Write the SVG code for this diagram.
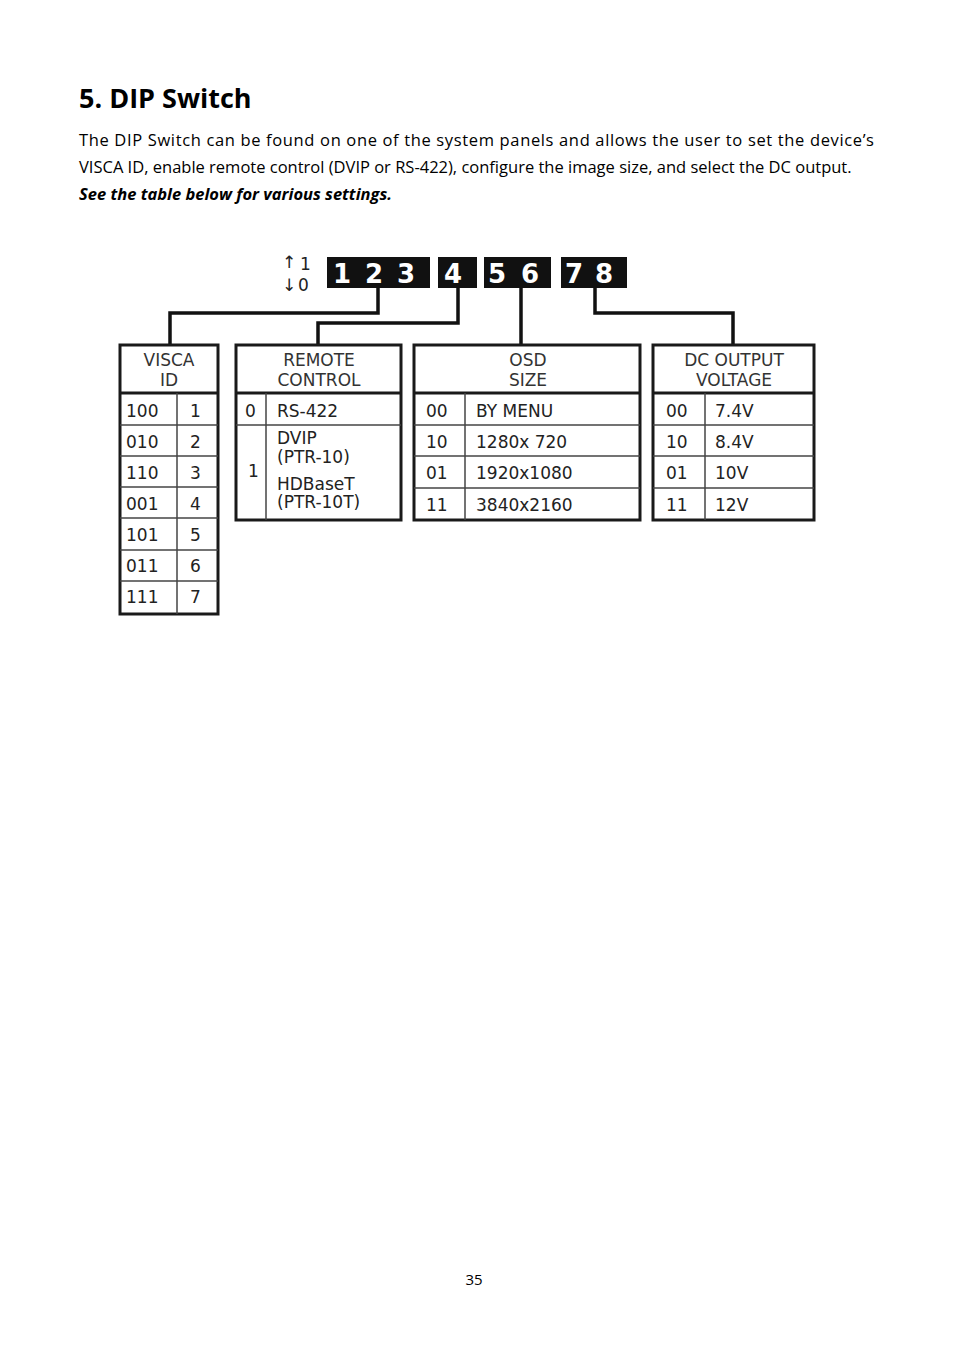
<svg xmlns="http://www.w3.org/2000/svg" width="954" height="1350" viewBox="0 0 954 1350">
<style>
.b{fill:none;stroke:#1a1a1a;stroke-width:3}
.g{stroke:#444;stroke-width:1.5}
.c{fill:none;stroke:#111;stroke-width:3.5}
.t{font-family:"DejaVu Sans",sans-serif;font-size:17px;fill:#222}
.h{font-family:"DejaVu Sans",sans-serif;font-size:17px;fill:#333;text-anchor:middle}
.k{font-family:"DejaVu Sans",sans-serif;font-size:26px;font-weight:bold;fill:#fff}
.p{font-family:"Open Sans","Liberation Sans",sans-serif;font-size:16.5px;fill:#000}
</style>
<rect width="954" height="1350" fill="#fff"/>
<text x="79" y="108" style="font-family:'Open Sans','Liberation Sans',sans-serif;font-size:27px;font-weight:bold">5.   DIP Switch</text>
<text class="p" x="79" y="146" textLength="795" lengthAdjust="spacing">The DIP Switch can be found on one of the system panels and allows the user to set the device’s</text>
<text class="p" x="79" y="173">VISCA ID, enable remote control (DVIP or RS-422), configure the image size, and select the DC output.</text>
<text class="p" x="79" y="200" style="font-weight:bold;font-style:italic">See the table below for various settings.</text>

<g id="switch">
<text class="t" x="282" y="268" font-size="16">↑</text><text class="t" x="300" y="270" font-size="19">1</text>
<text class="t" x="282" y="291" font-size="16">↓</text><text class="t" x="298" y="291" font-size="19">0</text>
<rect x="327" y="257" width="103" height="31" fill="#111"/>
<rect x="438" y="257" width="39" height="31" fill="#111"/>
<rect x="484" y="257" width="67" height="31" fill="#111"/>
<rect x="561" y="257" width="66" height="31" fill="#111"/>
<text class="k" x="333" y="283">1</text><text class="k" x="365" y="283">2</text><text class="k" x="397" y="283">3</text>
<text class="k" x="444" y="283">4</text>
<text class="k" x="488" y="283">5</text><text class="k" x="521" y="283">6</text>
<text class="k" x="565" y="283">7</text><text class="k" x="595" y="283">8</text>
</g>

<g id="connectors">
<polyline class="c" points="378,288 378,313 170,313 170,345"/>
<polyline class="c" points="458,288 458,323 318,323 318,345"/>
<polyline class="c" points="521,288 521,345"/>
<polyline class="c" points="595,288 595,313 733,313 733,345"/>
</g>

<g id="visca">
<rect class="b" x="120" y="345" width="98" height="269"/>
<line class="b" x1="120" y1="393" x2="218" y2="393"/>
<line class="g" x1="177" y1="393" x2="177" y2="614"/>
<g class="g"><line x1="120" y1="425" x2="218" y2="425"/><line x1="120" y1="456" x2="218" y2="456"/><line x1="120" y1="487" x2="218" y2="487"/><line x1="120" y1="518" x2="218" y2="518"/><line x1="120" y1="550" x2="218" y2="550"/><line x1="120" y1="581" x2="218" y2="581"/></g>
<text class="h" x="169" y="366">VISCA</text><text class="h" x="169" y="386">ID</text>
<text class="t" x="126" y="417">100</text><text class="t" x="190" y="417">1</text>
<text class="t" x="126" y="448">010</text><text class="t" x="190" y="448">2</text>
<text class="t" x="126" y="479">110</text><text class="t" x="190" y="479">3</text>
<text class="t" x="126" y="510">001</text><text class="t" x="190" y="510">4</text>
<text class="t" x="126" y="541">101</text><text class="t" x="190" y="541">5</text>
<text class="t" x="126" y="572">011</text><text class="t" x="190" y="572">6</text>
<text class="t" x="126" y="603">111</text><text class="t" x="190" y="603">7</text>
</g>

<g id="remote">
<rect class="b" x="236" y="345" width="165" height="175"/>
<line class="b" x1="236" y1="393" x2="401" y2="393"/>
<line class="g" x1="266" y1="393" x2="266" y2="520"/>
<line class="g" x1="236" y1="425" x2="401" y2="425"/>
<text class="h" x="319" y="366">REMOTE</text><text class="h" x="319" y="386">CONTROL</text>
<text class="t" x="245" y="417">0</text><text class="t" x="277" y="417">RS-422</text>
<text class="t" x="248" y="477">1</text>
<text class="t" x="277" y="444">DVIP</text><text class="t" x="277" y="463">(PTR-10)</text>
<text class="t" x="277" y="490">HDBaseT</text><text class="t" x="277" y="508">(PTR-10T)</text>
</g>

<g id="osd">
<rect class="b" x="414" y="345" width="226" height="175"/>
<line class="b" x1="414" y1="393" x2="640" y2="393"/>
<line class="g" x1="465" y1="393" x2="465" y2="520"/>
<g class="g"><line x1="414" y1="425" x2="640" y2="425"/><line x1="414" y1="456" x2="640" y2="456"/><line x1="414" y1="488" x2="640" y2="488"/></g>
<text class="h" x="528" y="366">OSD</text><text class="h" x="528" y="386">SIZE</text>
<text class="t" x="426" y="417">00</text><text class="t" x="476" y="417">BY MENU</text>
<text class="t" x="426" y="448">10</text><text class="t" x="476" y="448">1280x  720</text>
<text class="t" x="426" y="479">01</text><text class="t" x="476" y="479">1920x1080</text>
<text class="t" x="426" y="511">11</text><text class="t" x="476" y="511">3840x2160</text>
</g>

<g id="dc">
<rect class="b" x="653" y="345" width="161" height="175"/>
<line class="b" x1="653" y1="393" x2="814" y2="393"/>
<line class="g" x1="705" y1="393" x2="705" y2="520"/>
<g class="g"><line x1="653" y1="425" x2="814" y2="425"/><line x1="653" y1="456" x2="814" y2="456"/><line x1="653" y1="488" x2="814" y2="488"/></g>
<text class="h" x="734" y="366">DC OUTPUT</text><text class="h" x="734" y="386">VOLTAGE</text>
<text class="t" x="666" y="417">00</text><text class="t" x="715" y="417">7.4V</text>
<text class="t" x="666" y="448">10</text><text class="t" x="715" y="448">8.4V</text>
<text class="t" x="666" y="479">01</text><text class="t" x="715" y="479">10V</text>
<text class="t" x="666" y="511">11</text><text class="t" x="715" y="511">12V</text>
</g>

<text x="474" y="1285" text-anchor="middle" style="font-family:'Open Sans','Liberation Sans',sans-serif;font-size:15px">35</text>
</svg>
